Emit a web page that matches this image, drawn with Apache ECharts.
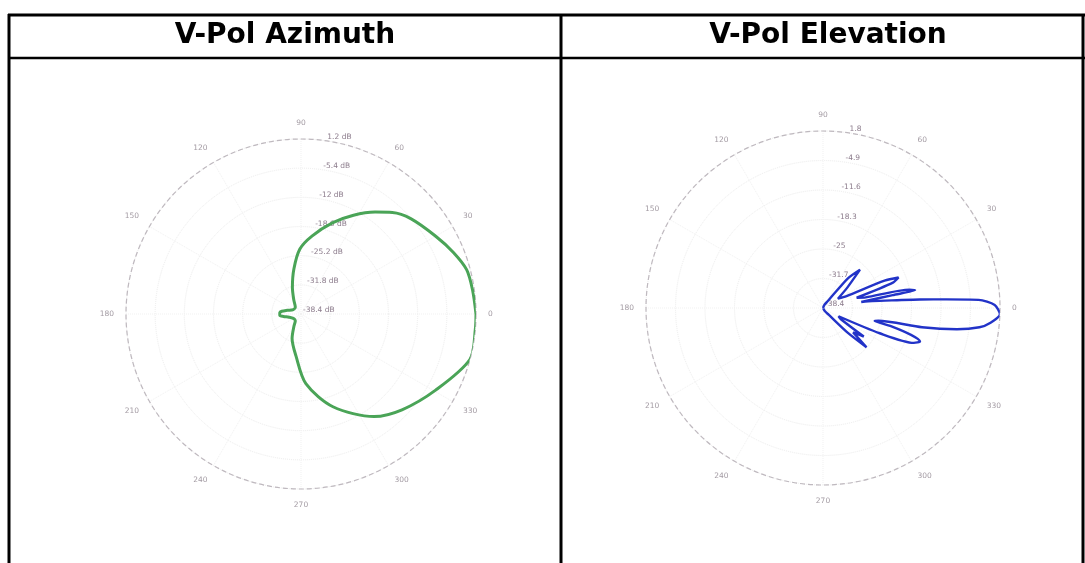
<!DOCTYPE html>
<html>
<head>
<meta charset="utf-8">
<script src="https://cdn.jsdelivr.net/npm/echarts@6/dist/echarts.min.js"></script>
<style>
  html, body { margin: 0; padding: 0; background: #ffffff; }
  #chart { width: 1085px; height: 563px; }
</style>
</head>
<body>
<div id="chart"></div>
<script>
// Panel headings
const panelTitles = ['V-Pol Azimuth', 'V-Pol Elevation'];

// Azimuth cut, V-pol: angle (deg) and gain (dB)
const azAngles = [0, 8, 15, 22, 30, 41, 48, 54, 62, 71, 82, 91, 99, 108, 117, 130, 150, 165, 172, 176, 180,
                  184, 188, 195, 210, 230, 240, 250, 263, 274, 289, 305.5, 316.5, 330.5, 345, 355, 360];
const azGain = [1.2, 0.8, 0.4, -1.2, -3.2, -5.5, -7.5, -9.9, -13.1, -16.6, -20.6, -23.7, -28.1, -32.1, -34.8, -36.4, -36.4, -35.2, -34.0, -33.6, -33.6,
                -33.6, -34.4, -35.6, -36.4, -36.4, -35.2, -32.5, -28.9, -22.6, -16.2, -9.9, -6.9, -3.4, 1.2, 1.2, 1.2];

// Elevation cut, V-pol: angle (deg) and gain (dB)
const elAngles = [-180, -90, -60, -50, -45, -42, -39, -37, -35, -32, -28, -24, -21, -19, -17, -15, -14, -13, -11, -9,
                  -7, -5, -2, 1, 3, 4, 5, 6, 8, 9, 10.5, 11, 12, 14, 17, 20, 22, 24, 27, 32,
                  40, 46, 50, 55, 65, 90, 180];
const elGain = [-38.4, -38.4, -37.6, -36.4, -30.4, -25.1, -29.6, -28.4, -27.1, -33.6, -34.4, -24.3, -16.3, -15.1, -17.5, -22.3, -26.3, -25.5, -15.5, -7.6,
                -2.6, -0.2, 1.8, 0.6, -3.0, -10.3, -16.3, -21.5, -27.1, -29.6, -22.3, -17.1, -18.3, -28.4, -30.4, -21.5, -19.9, -23.1, -32.4, -34.4,
                -31.2, -26.3, -29.6, -36.4, -37.6, -38.4, -38.4];

// Radial scale limits (dB) and ring labels, centre outwards
const azRange = [-38.4, 1.2];
const elRange = [-38.4, 1.8];
const azRingLabels = ['-38.4 dB', '-31.8 dB', '-25.2 dB', '-18.6 dB', '-12 dB', '-5.4 dB', '1.2 dB'];
const elRingLabels = ['-38.4', '-31.7', '-25', '-18.3', '-11.6', '-4.9', '1.8'];

const FONT = 'DejaVu Sans';
const labelGrey = '#a39ba3';

function dataAngleAxis(polarIndex) {
  return {
    polarIndex, type: 'value', min: 0, max: 360, interval: 30,
    startAngle: 0, clockwise: false,
    axisLine: { lineStyle: { color: '#bfb9bf', width: 1.2, type: [5, 3] } },
    axisTick: { show: false },
    axisLabel: { margin: 12, fontSize: 7.5, color: labelGrey, fontFamily: FONT },
    splitLine: { lineStyle: { color: '#f1f1f1', type: 'dotted', width: 1 } }
  };
}
function ringAngleAxis(polarIndex) {
  return { polarIndex, type: 'value', min: 0, max: 360, startAngle: 82, clockwise: false, show: false };
}
function ringRadiusAxis(polarIndex, labels) {
  return {
    polarIndex, type: 'value', min: 0, max: labels.length - 1, interval: 1,
    axisLine: { show: false }, axisTick: { show: false },
    splitLine: { lineStyle: { color: '#ececec', type: 'dotted', width: 1 } },
    axisLabel: {
      formatter: v => labels[v] || '', margin: -2, align: 'left', verticalAlign: 'bottom',
      fontSize: 7.5, color: '#8c7c8c', fontFamily: FONT
    }
  };
}
function pairs(angles, gains) { return angles.map((a, i) => [gains[i], a]); }

const chart = echarts.init(document.getElementById('chart'), null, { renderer: 'canvas' });

const borderStyle = { stroke: '#000', lineWidth: 3 };
chart.setOption({
  animation: false,
  backgroundColor: '#ffffff',
  polar: [
    { center: [301, 314], radius: 175 },
    { center: [301, 314], radius: 175 },
    { center: [823, 308], radius: 177 },
    { center: [823, 308], radius: 177 }
  ],
  angleAxis: [dataAngleAxis(0), ringAngleAxis(1), dataAngleAxis(2), ringAngleAxis(3)],
  radiusAxis: [
    { polarIndex: 0, type: 'value', min: azRange[0], max: azRange[1], show: false },
    ringRadiusAxis(1, azRingLabels),
    { polarIndex: 2, type: 'value', min: elRange[0], max: elRange[1], show: false },
    ringRadiusAxis(3, elRingLabels)
  ],
  series: [
    {
      name: panelTitles[0], type: 'line', coordinateSystem: 'polar', polarIndex: 0,
      data: pairs(azAngles, azGain), symbol: 'none', smooth: 0.3, silent: true, z: 5,
      lineStyle: { color: '#4aa457', width: 3 }
    },
    {
      name: panelTitles[1], type: 'line', coordinateSystem: 'polar', polarIndex: 2,
      data: pairs(elAngles, elGain), symbol: 'none', smooth: 0.25, silent: true, z: 5,
      lineStyle: { color: '#2233c8', width: 2.4 }
    }
  ],
  graphic: [
    { type: 'line', shape: { x1: 8, y1: 15, x2: 1085, y2: 15 }, style: borderStyle, silent: true },
    { type: 'line', shape: { x1: 8, y1: 58, x2: 1085, y2: 58 }, style: { stroke: '#000', lineWidth: 2.5 }, silent: true },
    { type: 'line', shape: { x1: 9, y1: 14, x2: 9, y2: 563 }, style: borderStyle, silent: true },
    { type: 'line', shape: { x1: 561, y1: 14, x2: 561, y2: 563 }, style: borderStyle, silent: true },
    { type: 'line', shape: { x1: 1083, y1: 14, x2: 1083, y2: 563 }, style: borderStyle, silent: true },
    {
      type: 'text', x: 285, y: 36, silent: true,
      style: { text: panelTitles[0], font: 'bold 28px "DejaVu Sans"', fill: '#000', align: 'center', verticalAlign: 'middle' }
    },
    {
      type: 'text', x: 828, y: 36, silent: true,
      style: { text: panelTitles[1], font: 'bold 28px "DejaVu Sans"', fill: '#000', align: 'center', verticalAlign: 'middle' }
    }
  ]
});
</script>
</body>
</html>
